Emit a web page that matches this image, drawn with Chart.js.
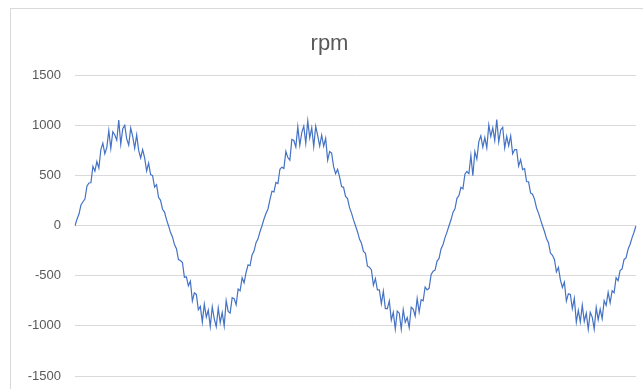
<!DOCTYPE html>
<html>
<head>
<meta charset="utf-8">
<title>rpm</title>
<script src="https://cdn.jsdelivr.net/npm/chart.js@4"></script>
<style>
  html, body { margin: 0; padding: 0; background: #ffffff; }
  #rpmChart { display: block; }
</style>
</head>
<body>
<canvas id="rpmChart" width="643" height="389"></canvas>
<script>
// rpm samples, one array per revolution cycle
const rpmCycle1 = [
  0, 65, 116, 206, 239, 266, 394, 426, 428, 593, 544, 641, 575, 760, 823, 718, 782, 950, 771, 938, 905,
  853, 1054, 812, 968, 1002, 866, 804, 975, 892, 773, 907, 751, 676, 760, 677, 546, 625, 511, 500, 385,
  409, 284, 253, 164, 136, 61,
  0, -66, -112, -188, -229, -339, -348, -367, -514, -511, -600, -554, -752, -670, -686, -839, -805, -962,
  -783, -913, -842, -1007, -809, -929, -1007, -822, -968, -867, -1000, -747, -856, -873, -718, -728, -789,
  -631, -650, -519, -570, -467, -390, -399, -292, -253, -169, -131, -60
];
const rpmCycle2 = [
  0, 67, 121, 167, 260, 344, 337, 432, 421, 563, 584, 572, 742, 680, 654, 861, 850, 785, 989, 801, 930,
  994, 822, 1046, 877, 977, 789, 993, 900, 795, 903, 793, 872, 654, 740, 724, 589, 519, 563, 487, 390,
  383, 292, 270, 180, 126, 58,
  0, -60, -134, -175, -256, -275, -404, -414, -441, -593, -527, -641, -640, -779, -654, -828, -827, -750,
  -941, -863, -1031, -853, -873, -1033, -838, -964, -917, -1018, -814, -832, -903, -725, -861, -738, -750,
  -612, -641, -625, -489, -454, -444, -353, -327, -232, -188, -119, -64
];
const rpmCycle3 = [
  0, 59, 133, 169, 273, 301, 383, 367, 514, 541, 519, 702, 498, 740, 665, 839, 896, 785, 880, 776, 1006,
  891, 977, 851, 1059, 835, 955, 981, 776, 892, 797, 896, 718, 760, 760, 594, 659, 560, 570, 441, 438,
  327, 314, 263, 177, 126, 60,
  0, -58, -129, -169, -273, -296, -337, -461, -415, -541, -617, -563, -752, -680, -686, -828, -725, -962,
  -844, -962, -792, -955, -873, -1033, -864, -912, -1032, -817, -938, -832, -927, -748, -795, -665, -769,
  -649, -668, -519, -548, -448, -432, -337, -322, -236, -188, -121, -65
];
const rpmEnd = [0];

const yTickValues = [-1500, -1000, -500, 0, 500, 1000, 1500];

const rpm = rpmCycle1.concat(rpmCycle2, rpmCycle3, rpmEnd);
const samples = rpm.map((_, i) => i + 1);

// light frame around the chart, like a spreadsheet chart box
const frame = {
  id: "frame",
  beforeDraw(chart) {
    const c = chart.ctx;
    c.save();
    c.strokeStyle = "#d9d9d9";
    c.lineWidth = 1;
    c.strokeRect(10.5, 8.5, 700, 500);
    c.restore();
  },
};

new Chart(document.getElementById("rpmChart").getContext("2d"), {
  type: "line",
  data: {
    labels: samples,
    datasets: [
      {
        label: "rpm",
        data: rpm,
        borderColor: "#4472c4",
        borderWidth: 1.2,
        pointRadius: 0,
        tension: 0,
        fill: false,
      },
    ],
  },
  options: {
    responsive: false,
    animation: false,
    layout: { padding: { left: 23, right: 7, top: 10, bottom: 13 } },
    plugins: {
      legend: { display: false },
      tooltip: { enabled: false },
      title: {
        display: true,
        text: "rpm",
        color: "#595959",
        font: { family: "'Liberation Sans', Arial, sans-serif", size: 22, weight: "normal" },
        padding: { top: 21, bottom: 18 },
      },
    },
    scales: {
      x: { display: false },
      y: {
        min: -1500,
        max: 1500,
        afterBuildTicks(scale) {
          scale.ticks = yTickValues.map((v) => ({ value: v }));
        },
        afterFit(scale) {
          scale.width = 52;
          // keep the label gap from shrinking the plot vertically
          scale.paddingTop = 8;
          scale.paddingBottom = 8;
        },
        border: { display: false },
        grid: { color: "#d9d9d9", lineWidth: 1, drawTicks: false },
        ticks: {
          color: "#595959",
          padding: 14,
          font: { family: "'Liberation Sans', Arial, sans-serif", size: 13 },
          callback: (v) => String(v),
        },
      },
    },
  },
  plugins: [frame],
});
</script>
</body>
</html>
